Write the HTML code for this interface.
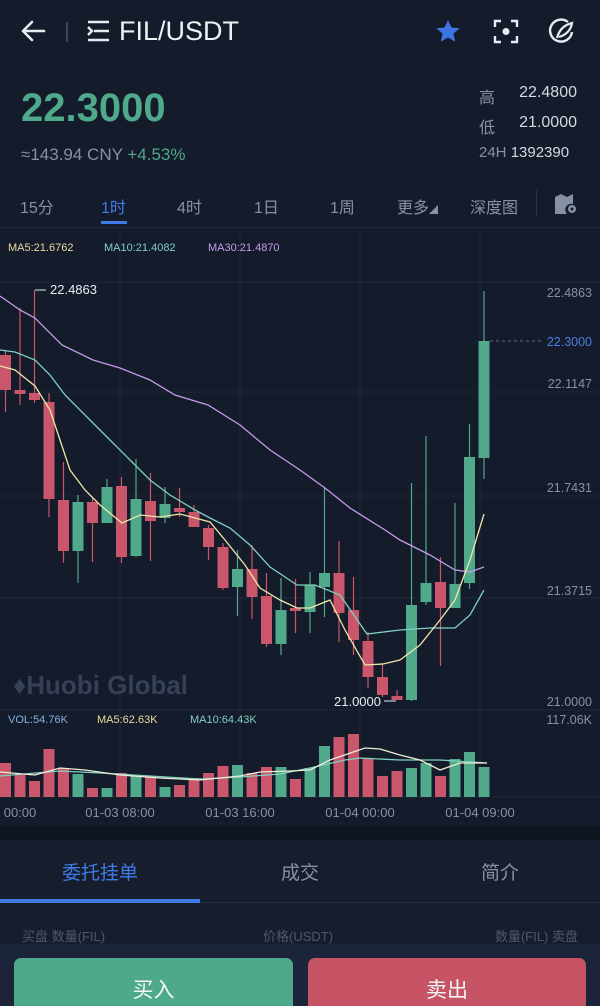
<!DOCTYPE html>
<html><head><meta charset="utf-8"><style>
*{margin:0;padding:0;box-sizing:border-box}
html,body{width:600px;height:1006px;overflow:hidden}
body{background:#141b2a;font-family:"Liberation Sans","Noto Sans CJK SC",sans-serif;position:relative;color:#fff}
.a{position:absolute;white-space:nowrap}
.g{color:#8791a5}
</style></head><body>
<svg class="a" style="left:0;top:0" width="600" height="70">
<g stroke="#e8ecf2" stroke-width="2.6" fill="none" stroke-linecap="round" stroke-linejoin="round">
<path d="M44 31H23M32 22l-9 9 9 9"/>
</g>
<line x1="67" y1="22" x2="67" y2="42" stroke="#4a5466" stroke-width="1.5"/>
<g stroke="#e8ecf2" stroke-width="2.4" fill="none"><path d="M88 22H109M94 31H109M88 40H109M88 27l4 4-4 4"/></g>
<path d="M448 20l3.5 7.5 8 .8-6 5.4 1.8 8-7.3-4.2-7.3 4.2 1.8-8-6-5.4 8-.8z" fill="#3e74e2"/>
<g stroke="#e8ecf2" stroke-width="2.4" fill="none"><path d="M495 27v-6h6M511 21h6v6M517 36v6h-6M501 42h-6v-6"/></g>
<circle cx="506" cy="31.5" r="3.5" fill="#e8ecf2"/>
<path d="M568 22a11 11 0 1 0 4 10" stroke="#e8ecf2" stroke-width="2.4" fill="none"/>
<path d="M557 38c2-8 7-13 15-15-1 7-6 12-13 14" stroke="#e8ecf2" stroke-width="2.2" fill="none"/>
</svg>
<div class="a" style="left:119px;top:16px;font-size:27px;color:#eef1f5">FIL/USDT</div>
<div class="a" style="left:21px;top:86px;font-size:40px;font-weight:bold;color:#4fa98a">22.3000</div>
<div class="a g" style="left:21px;top:145px;font-size:17px">≈143.94 CNY <span style="color:#4fa98a">+4.53%</span></div>
<div class="a g" style="left:479px;top:84px;font-size:16px">高</div>
<div class="a" style="right:23px;top:84px;font-size:16px;color:#d4d9e2">22.4800</div>
<div class="a g" style="left:479px;top:114px;font-size:16px">低</div>
<div class="a" style="right:23px;top:114px;font-size:16px;color:#d4d9e2">21.0000</div>
<div class="a g" style="left:479px;top:144px;font-size:15px">24H <span style="color:#d4d9e2">1392390</span></div>
<div class="a g" style="left:20px;top:194px;font-size:16px">15分</div>
<div class="a" style="left:101px;top:194px;font-size:16px;color:#3f7be6">1时</div>
<div class="a" style="left:101px;top:221px;width:26px;height:3px;background:#3f7be6"></div>
<div class="a g" style="left:177px;top:194px;font-size:16px">4时</div>
<div class="a g" style="left:254px;top:194px;font-size:16px">1日</div>
<div class="a g" style="left:330px;top:194px;font-size:16px">1周</div>
<div class="a g" style="left:397px;top:194px;font-size:16px">更多<span style="font-size:9px">◢</span></div>
<div class="a g" style="left:470px;top:194px;font-size:16px">深度图</div>
<div class="a" style="left:536px;top:190px;width:1px;height:26px;background:#2a3346"></div>
<svg class="a" style="left:553px;top:192px" width="26" height="24"><path d="M2 5l6-3 6 3 6-3v10a6 6 0 0 0-6 10H2z" fill="#8791a5"/><circle cx="19" cy="17" r="4" fill="#8791a5"/><circle cx="19" cy="17" r="1.5" fill="#141b2a"/></svg>
<div class="a" style="left:0;top:227px;width:600px;height:1px;background:#1e2738"></div>
<svg class="a" style="left:0;top:0" width="600" height="840">
<g stroke="#1f2839" stroke-width="1">
<line x1="120" y1="232" x2="120" y2="796"/><line x1="240" y1="232" x2="240" y2="796"/><line x1="360" y1="232" x2="360" y2="796"/><line x1="480" y1="232" x2="480" y2="796"/>
<line x1="0" y1="282" x2="600" y2="282"/><line x1="0" y1="392" x2="600" y2="392"/><line x1="0" y1="496" x2="600" y2="496"/><line x1="0" y1="598" x2="600" y2="598"/><line x1="0" y1="710" x2="600" y2="710"/><line x1="0" y1="797" x2="600" y2="797"/>
</g>
<text x="13" y="694" font-family="Liberation Sans" font-weight="bold" font-size="26" fill="#364056">♦Huobi Global</text>
<g font-family="Liberation Sans" font-size="11">
<text x="8" y="251" fill="#e8dca0">MA5:21.6762</text>
<text x="104" y="251" fill="#7fd1c1">MA10:21.4082</text>
<text x="208" y="251" fill="#c59ce8">MA30:21.4870</text>
<text x="8" y="723" fill="#7fb3e6">VOL:54.76K</text>
<text x="97" y="723" fill="#e8dca0">MA5:62.63K</text>
<text x="190" y="723" fill="#7fd1c1">MA10:64.43K</text>
</g>
<g font-family="Liberation Sans" font-size="12.5" fill="#8791a5" text-anchor="end">
<text x="592" y="297">22.4863</text>
<text x="592" y="346" fill="#4a7fe0">22.3000</text>
<text x="592" y="388">22.1147</text>
<text x="592" y="492">21.7431</text>
<text x="592" y="595">21.3715</text>
<text x="592" y="706">21.0000</text>
<text x="592" y="724">117.06K</text>
</g>
<line x1="490" y1="341" x2="542" y2="341" stroke="#5a6e99" stroke-dasharray="3,3"/>
<line x1="35" y1="290" x2="46" y2="290" stroke="#e8ecf2"/>
<text x="50" y="294" font-family="Liberation Sans" font-size="13" fill="#e8ecf2">22.4863</text>
<line x1="384" y1="701" x2="396" y2="701" stroke="#e8ecf2"/>
<text x="381" y="706" font-family="Liberation Sans" font-size="13" fill="#e8ecf2" text-anchor="end">21.0000</text>
<g stroke-width="1.2">
<line x1="5.5" y1="350" x2="5.5" y2="412" stroke="#c9566a"/>
<line x1="20" y1="308" x2="20" y2="405" stroke="#c9566a"/>
<line x1="34.5" y1="290" x2="34.5" y2="403" stroke="#c9566a"/>
<line x1="49" y1="393" x2="49" y2="517" stroke="#c9566a"/>
<line x1="63.5" y1="462" x2="63.5" y2="563" stroke="#c9566a"/>
<line x1="78" y1="495" x2="78" y2="583" stroke="#4fa98a"/>
<line x1="92.5" y1="497" x2="92.5" y2="562" stroke="#c9566a"/>
<line x1="107" y1="479" x2="107" y2="523" stroke="#4fa98a"/>
<line x1="121.5" y1="477" x2="121.5" y2="563" stroke="#c9566a"/>
<line x1="136" y1="459" x2="136" y2="557" stroke="#4fa98a"/>
<line x1="150.5" y1="473" x2="150.5" y2="561" stroke="#c9566a"/>
<line x1="165" y1="487" x2="165" y2="523" stroke="#4fa98a"/>
<line x1="179.5" y1="488" x2="179.5" y2="517" stroke="#c9566a"/>
<line x1="194" y1="505" x2="194" y2="527" stroke="#c9566a"/>
<line x1="208.5" y1="525" x2="208.5" y2="560" stroke="#c9566a"/>
<line x1="223" y1="543" x2="223" y2="590" stroke="#c9566a"/>
<line x1="237.5" y1="550" x2="237.5" y2="616" stroke="#4fa98a"/>
<line x1="252" y1="545" x2="252" y2="619" stroke="#c9566a"/>
<line x1="266.5" y1="573" x2="266.5" y2="647" stroke="#c9566a"/>
<line x1="281" y1="578" x2="281" y2="655" stroke="#4fa98a"/>
<line x1="295.5" y1="579" x2="295.5" y2="633" stroke="#c9566a"/>
<line x1="310" y1="572" x2="310" y2="633" stroke="#4fa98a"/>
<line x1="324.5" y1="487" x2="324.5" y2="617" stroke="#4fa98a"/>
<line x1="339" y1="541" x2="339" y2="642" stroke="#c9566a"/>
<line x1="353.5" y1="577" x2="353.5" y2="655" stroke="#c9566a"/>
<line x1="368" y1="632" x2="368" y2="688" stroke="#c9566a"/>
<line x1="382.5" y1="663" x2="382.5" y2="697" stroke="#c9566a"/>
<line x1="397" y1="690" x2="397" y2="700" stroke="#c9566a"/>
<line x1="411.5" y1="483" x2="411.5" y2="701" stroke="#4fa98a"/>
<line x1="426" y1="436" x2="426" y2="605" stroke="#4fa98a"/>
<line x1="440.5" y1="557" x2="440.5" y2="666" stroke="#c9566a"/>
<line x1="455" y1="503" x2="455" y2="608" stroke="#4fa98a"/>
<line x1="469.5" y1="424" x2="469.5" y2="589" stroke="#4fa98a"/>
<line x1="484" y1="291" x2="484" y2="479" stroke="#4fa98a"/>
</g>
<g>
<rect x="0" y="355" width="11" height="35" fill="#c9566a"/>
<rect x="14.5" y="390" width="11" height="4" fill="#c9566a"/>
<rect x="29" y="393" width="11" height="7" fill="#c9566a"/>
<rect x="43.5" y="402" width="11" height="97" fill="#c9566a"/>
<rect x="58" y="500" width="11" height="51" fill="#c9566a"/>
<rect x="72.5" y="502" width="11" height="49" fill="#4fa98a"/>
<rect x="87" y="502" width="11" height="21" fill="#c9566a"/>
<rect x="101.5" y="487" width="11" height="36" fill="#4fa98a"/>
<rect x="116" y="486" width="11" height="71" fill="#c9566a"/>
<rect x="130.5" y="499" width="11" height="57" fill="#4fa98a"/>
<rect x="145" y="501" width="11" height="20" fill="#c9566a"/>
<rect x="159.5" y="504" width="11" height="14" fill="#4fa98a"/>
<rect x="174" y="508" width="11" height="4" fill="#c9566a"/>
<rect x="188.5" y="512" width="11" height="15" fill="#c9566a"/>
<rect x="203" y="528" width="11" height="19" fill="#c9566a"/>
<rect x="217.5" y="547" width="11" height="41" fill="#c9566a"/>
<rect x="232" y="569" width="11" height="18" fill="#4fa98a"/>
<rect x="246.5" y="569" width="11" height="28" fill="#c9566a"/>
<rect x="261" y="596" width="11" height="48" fill="#c9566a"/>
<rect x="275.5" y="610" width="11" height="34" fill="#4fa98a"/>
<rect x="290" y="608" width="11" height="3" fill="#c9566a"/>
<rect x="304.5" y="585" width="11" height="27" fill="#4fa98a"/>
<rect x="319" y="573" width="11" height="14" fill="#4fa98a"/>
<rect x="333.5" y="573" width="11" height="40" fill="#c9566a"/>
<rect x="348" y="610" width="11" height="30" fill="#c9566a"/>
<rect x="362.5" y="641" width="11" height="36" fill="#c9566a"/>
<rect x="377" y="677" width="11" height="18" fill="#c9566a"/>
<rect x="391.5" y="696" width="11" height="4" fill="#c9566a"/>
<rect x="406" y="605" width="11" height="95" fill="#4fa98a"/>
<rect x="420.5" y="583" width="11" height="19" fill="#4fa98a"/>
<rect x="435" y="582" width="11" height="26" fill="#c9566a"/>
<rect x="449.5" y="584" width="11" height="24" fill="#4fa98a"/>
<rect x="464" y="457" width="11" height="126" fill="#4fa98a"/>
<rect x="478.5" y="341" width="11" height="117" fill="#4fa98a"/>
</g>
<g fill="none" stroke-width="1.3">
<polyline stroke="#c59ce8" points="0,296 20,310 35,318 62,345 93,360 120,368 150,380 175,395 208,405 240,425 270,450 300,470 325,488 350,508 385,530 400,540 430,555 455,570 470,572 484,567"/>
<polyline stroke="#7fd1c1" points="0,350 15,352 35,360 50,375 65,395 90,420 110,440 130,460 150,480 170,495 195,510 210,518 230,528 250,545 270,567 297,585 315,585 340,595 367,634 400,630 430,628 455,628 470,615 484,590"/>
<polyline stroke="#f0e6a8" points="0,366 15,370 35,386 50,410 60,440 70,470 85,490 100,505 122,523 140,515 160,517 180,514 195,518 210,522 225,540 245,565 260,588 280,600 297,608 310,608 330,600 345,630 365,665 383,664 400,660 420,645 440,620 455,600 470,560 484,514"/>
</g>
<g>
<rect x="0" y="763" width="11" height="34" fill="#c9566a"/>
<rect x="14.5" y="775" width="11" height="22" fill="#c9566a"/>
<rect x="29" y="781" width="11" height="16" fill="#c9566a"/>
<rect x="43.5" y="749" width="11" height="48" fill="#c9566a"/>
<rect x="58" y="768" width="11" height="29" fill="#c9566a"/>
<rect x="72.5" y="774" width="11" height="23" fill="#4fa98a"/>
<rect x="87" y="788" width="11" height="9" fill="#c9566a"/>
<rect x="101.5" y="788" width="11" height="9" fill="#4fa98a"/>
<rect x="116" y="773" width="11" height="24" fill="#c9566a"/>
<rect x="130.5" y="776" width="11" height="21" fill="#4fa98a"/>
<rect x="145" y="776" width="11" height="21" fill="#c9566a"/>
<rect x="159.5" y="787" width="11" height="10" fill="#4fa98a"/>
<rect x="174" y="785" width="11" height="12" fill="#c9566a"/>
<rect x="188.5" y="778" width="11" height="19" fill="#c9566a"/>
<rect x="203" y="773" width="11" height="24" fill="#c9566a"/>
<rect x="217.5" y="766" width="11" height="31" fill="#c9566a"/>
<rect x="232" y="765" width="11" height="32" fill="#4fa98a"/>
<rect x="246.5" y="773" width="11" height="24" fill="#c9566a"/>
<rect x="261" y="767" width="11" height="30" fill="#c9566a"/>
<rect x="275.5" y="767" width="11" height="30" fill="#4fa98a"/>
<rect x="290" y="779" width="11" height="18" fill="#c9566a"/>
<rect x="304.5" y="768" width="11" height="29" fill="#4fa98a"/>
<rect x="319" y="746" width="11" height="51" fill="#4fa98a"/>
<rect x="333.5" y="737" width="11" height="60" fill="#c9566a"/>
<rect x="348" y="734" width="11" height="63" fill="#c9566a"/>
<rect x="362.5" y="758" width="11" height="39" fill="#c9566a"/>
<rect x="377" y="776" width="11" height="21" fill="#c9566a"/>
<rect x="391.5" y="771" width="11" height="26" fill="#c9566a"/>
<rect x="406" y="768" width="11" height="29" fill="#4fa98a"/>
<rect x="420.5" y="763" width="11" height="34" fill="#4fa98a"/>
<rect x="435" y="776" width="11" height="21" fill="#c9566a"/>
<rect x="449.5" y="759" width="11" height="38" fill="#4fa98a"/>
<rect x="464" y="752" width="11" height="45" fill="#4fa98a"/>
<rect x="478.5" y="767" width="11" height="30" fill="#4fa98a"/>
</g>
<g fill="none" stroke-width="1.3">
<polyline stroke="#7fd1c1" points="0,776 60,771 100,773 150,776 200,779 240,777 280,774 310,768 345,760 360,758 400,760 440,760 487,763"/>
<polyline stroke="#f0ecd8" points="0,772 35,775 60,768 85,770 120,775 160,778 200,780 240,776 260,772 290,771 310,770 330,760 365,748 380,749 400,755 420,760 440,770 460,763 487,763"/>
</g>
<g font-family="Liberation Sans" font-size="13" fill="#8791a5" text-anchor="middle">
<text x="20" y="817">00:00</text><text x="120" y="817">01-03 08:00</text><text x="240" y="817">01-03 16:00</text><text x="360" y="817">01-04 00:00</text><text x="480" y="817">01-04 09:00</text>
</g>
</svg>
<div class="a" style="left:0;top:826px;width:600px;height:14px;background:#0f1521"></div>
<div class="a" style="left:0;top:840px;width:600px;height:166px;background:#161e2e"></div>
<div class="a" style="left:0;top:858px;width:200px;text-align:center;font-size:19px;color:#3f7be6">委托挂单</div>
<div class="a g" style="left:200px;top:858px;width:200px;text-align:center;font-size:19px">成交</div>
<div class="a g" style="left:400px;top:858px;width:200px;text-align:center;font-size:19px">简介</div>
<div class="a" style="left:0;top:902px;width:600px;height:1px;background:#252e40"></div>
<div class="a" style="left:0;top:899px;width:200px;height:4px;background:#3f7be6"></div>
<div class="a" style="left:22px;top:926px;font-size:13px;color:#4e586a">买盘 数量(FIL)</div>
<div class="a" style="left:263px;top:926px;font-size:13px;color:#4e586a">价格(USDT)</div>
<div class="a" style="right:22px;top:926px;font-size:13px;color:#4e586a">数量(FIL) 卖盘</div>
<div class="a" style="left:0;top:944px;width:600px;height:62px;background:#1b2438"></div>
<div class="a" style="left:14px;top:958px;width:279px;height:48px;border-radius:7px 7px 0 0;background:#4ea98c;text-align:center;padding-top:20px;font-size:21px;line-height:26px;color:#f4f6f8">买入</div>
<div class="a" style="left:308px;top:958px;width:278px;height:48px;border-radius:7px 7px 0 0;background:#c65464;text-align:center;padding-top:20px;font-size:21px;line-height:26px;color:#f4f6f8">卖出</div>
</body></html>
